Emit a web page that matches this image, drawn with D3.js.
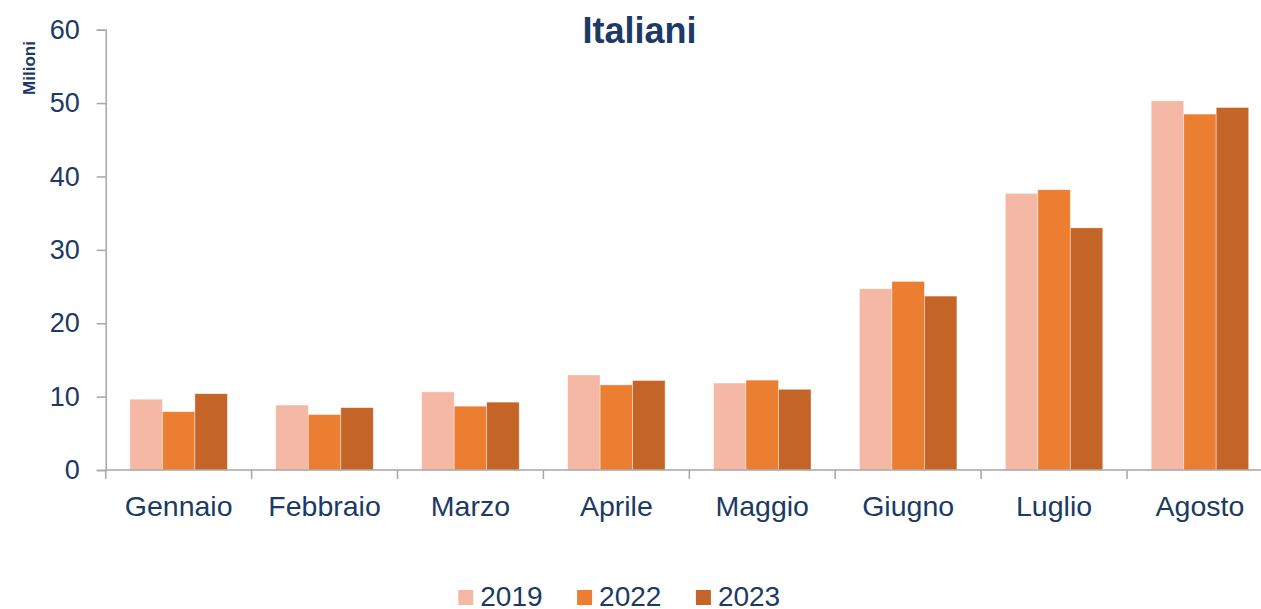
<!DOCTYPE html>
<html>
<head>
<meta charset="utf-8">
<script src="https://cdn.jsdelivr.net/npm/d3@7"></script>
<style>
  body { margin: 0; background: #fff; }
  svg { display: block; font-family: "Liberation Sans", Arial, sans-serif; }
</style>
</head>
<body>
<svg id="chart" width="1261" height="609"></svg>
<script>
// data (milioni)
var months = ["Gennaio","Febbraio","Marzo","Aprile","Maggio","Giugno","Luglio","Agosto"];
var years = ["2019","2022","2023"];
var v2019 = [9.65, 8.85, 10.65, 12.95, 11.85, 24.7, 37.7, 50.3];
var v2022 = [7.95, 7.55, 8.7, 11.6, 12.25, 25.7, 38.2, 48.5];
var v2023 = [10.4, 8.5, 9.25, 12.2, 11.0, 23.7, 33.0, 49.4];
var yTicks = [0,10,20,30,40,50,60];
var colors = ["#F4B8A4","#EC7E32","#C46527"];

var series = [v2019, v2022, v2023];
var textCol = "#1B3A66", axisCol = "#A6A6A6";

var svg = d3.select("#chart");
var plotL = 105.7, plotR = 1272.9, plotT = 29.7, plotB = 470;

var x0 = d3.scaleBand().domain(months).range([plotL, plotR]).padding(0);
var x1 = d3.scaleBand().domain(years).range([0, x0.bandwidth()]).paddingInner(0).paddingOuter(0.745);
var y = d3.scaleLinear().domain([0, 60]).range([plotB, plotT]);

// bars
var groups = svg.append("g").selectAll("g")
    .data(months)
    .join("g")
    .attr("transform", function(d){ return "translate(" + x0(d) + ",0)"; });

groups.selectAll("rect")
    .data(function(d, i){ return years.map(function(yr, s){ return {year: yr, value: series[s][i], s: s}; }); })
    .join("rect")
    .attr("x", function(d){ return x1(d.year); })
    .attr("width", x1.bandwidth())
    .attr("y", function(d){ return y(d.value); })
    .attr("height", function(d){ return plotB - y(d.value); })
    .attr("fill", function(d){ return colors[d.s]; })
    .attr("stroke", "#fff")
    .attr("stroke-opacity", 0.5)
    .attr("stroke-width", 0.8);

// y axis
var yAxis = svg.append("g")
    .attr("transform", "translate(" + plotL + ",0)")
    .call(d3.axisLeft(y).tickValues(yTicks).tickSize(9).tickPadding(17));
yAxis.select(".domain").attr("stroke", axisCol).attr("stroke-width", 1.5);
yAxis.selectAll(".tick line").attr("stroke", axisCol).attr("stroke-width", 1.5);
yAxis.selectAll(".tick text")
    .attr("fill", textCol)
    .style("font-size", "27px")
    .style("font-family", "'Liberation Sans', Arial, sans-serif");

// x axis line
svg.append("line")
    .attr("x1", plotL).attr("x2", 1261)
    .attr("y1", plotB).attr("y2", plotB)
    .attr("stroke", axisCol).attr("stroke-width", 1.5);

// x ticks at band boundaries
svg.append("g").selectAll("line")
    .data(months)
    .join("line")
    .attr("x1", function(d){ return x0(d); })
    .attr("x2", function(d){ return x0(d); })
    .attr("y1", plotB).attr("y2", plotB + 9)
    .attr("stroke", axisCol).attr("stroke-width", 1.5);

// x labels
svg.append("g").selectAll("text")
    .data(months)
    .join("text")
    .attr("x", function(d){ return x0(d) + x0.bandwidth() / 2; })
    .attr("y", 516)
    .attr("text-anchor", "middle")
    .attr("fill", textCol)
    .style("font-size", "28.5px")
    .text(function(d){ return d; });

// title
svg.append("text")
    .attr("x", 639.5).attr("y", 43)
    .attr("text-anchor", "middle")
    .attr("fill", textCol)
    .style("font-size", "36px")
    .style("font-weight", "bold")
    .text("Italiani");

// unit label
svg.append("text")
    .attr("transform", "translate(35,68) rotate(-90)")
    .attr("text-anchor", "middle")
    .attr("fill", textCol)
    .style("font-size", "17px")
    .style("font-weight", "bold")
    .text("Milioni");

// legend
var legend = svg.append("g").selectAll("g")
    .data(years)
    .join("g")
    .attr("transform", function(d, i){ return "translate(" + (458.3 + i * 118.8) + ",590)"; });
legend.append("rect")
    .attr("width", 15).attr("height", 15)
    .attr("fill", function(d, i){ return colors[i]; });
legend.append("text")
    .attr("x", 22).attr("y", 16)
    .attr("fill", textCol)
    .style("font-size", "28px")
    .text(function(d){ return d; });
</script>
</body>
</html>
